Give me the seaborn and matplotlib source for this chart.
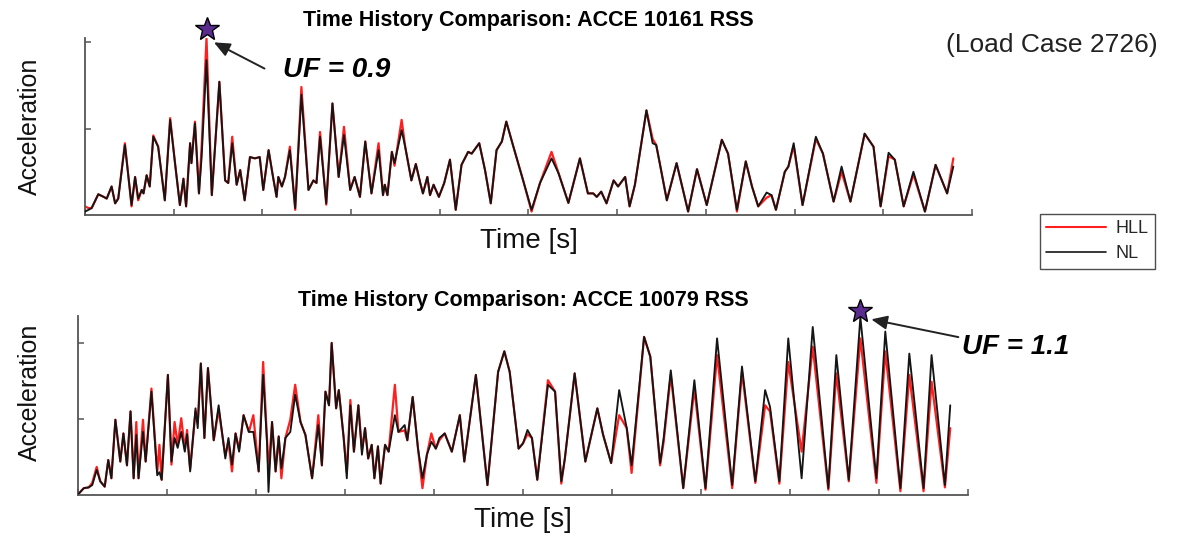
import numpy as np
import pandas as pd
import matplotlib
matplotlib.use("Agg")
import matplotlib.pyplot as plt
import seaborn as sns
from matplotlib.transforms import ScaledTranslation
from matplotlib.lines import Line2D

# ---------------- data ----------------
top_time = [0.00, 0.04, 0.075, 0.15, 0.21, 0.245, 0.30, 0.34, 0.375, 0.45, 0.525, 0.565, 0.60, 0.64, 0.66,
            0.695, 0.73, 0.77, 0.825, 0.90, 0.96, 1.015, 1.07, 1.11, 1.14, 1.185, 1.20, 1.24, 1.285, 1.315,
            1.37, 1.43, 1.515, 1.58, 1.615, 1.66, 1.71, 1.75, 1.80, 1.86, 1.915, 1.97, 2.01, 2.07, 2.12,
            2.16, 2.18, 2.22, 2.255, 2.31, 2.37, 2.44, 2.52, 2.575, 2.61, 2.65, 2.72, 2.79, 2.86, 2.92,
            2.99, 3.04, 3.10, 3.16, 3.23, 3.31, 3.36, 3.38, 3.41, 3.46, 3.49, 3.57, 3.61, 3.68, 3.73,
            3.78, 3.81, 3.86, 3.89, 3.93, 3.99, 4.05, 4.115, 4.18, 4.245, 4.32, 4.36, 4.445, 4.51, 4.575,
            4.64, 4.70, 4.75, 4.83, 4.94, 5.035, 5.13, 5.26, 5.34, 5.45, 5.58, 5.67, 5.73, 5.77, 5.82,
            5.88, 5.96, 6.01, 6.09, 6.14, 6.20, 6.33, 6.40, 6.44, 6.48, 6.56, 6.67, 6.80, 6.90, 7.01,
            7.18, 7.25, 7.35, 7.45, 7.52, 7.59, 7.685, 7.74, 7.79, 7.89, 7.93, 7.99, 8.09, 8.24, 8.32,
            8.44, 8.53, 8.63, 8.79, 8.89, 8.97, 9.06, 9.13, 9.23, 9.34, 9.47, 9.59, 9.72, 9.79]
top_nl = [0.04, 0.06, 0.08, 0.24, 0.21, 0.19, 0.33, 0.135, 0.19, 0.81, 0.115, 0.44, 0.19, 0.29, 0.25,
          0.46, 0.33, 0.905, 0.79, 0.17, 1.10, 0.60, 0.115, 0.42, 0.10, 0.83, 0.60, 1.06, 0.25, 0.67,
          1.79, 0.23, 1.54, 0.40, 0.37, 0.83, 0.35, 0.52, 0.17, 0.67, 0.655, 0.67, 0.29, 0.75, 0.44,
          0.21, 0.44, 0.33, 0.44, 0.75, 0.08, 1.39, 0.29, 0.40, 0.37, 0.905, 0.135, 1.29, 0.44, 0.925,
          0.29, 0.44, 0.21, 0.85, 0.25, 0.75, 0.23, 0.35, 0.23, 0.73, 0.60, 0.98, 0.79, 0.40, 0.59,
          0.37, 0.25, 0.44, 0.23, 0.35, 0.21, 0.37, 0.64, 0.06, 0.58, 0.73, 0.71, 0.83, 0.52, 0.135,
          0.75, 0.85, 1.08, 0.79, 0.40, 0.06, 0.37, 0.655, 0.48, 0.14, 0.655, 0.25, 0.25, 0.21, 0.27,
          0.135, 0.40, 0.33, 0.44, 0.10, 0.35, 1.21, 0.83, 0.81, 0.60, 0.17, 0.60, 0.04, 0.53, 0.115,
          0.87, 0.71, 0.06, 0.62, 0.33, 0.10, 0.26, 0.23, 0.06, 0.50, 0.56, 0.83, 0.115, 0.905, 0.71,
          0.155, 0.56, 0.155, 0.94, 0.79, 0.10, 0.72, 0.64, 0.10, 0.50, 0.04, 0.58, 0.25, 0.56]
top_hll = [0.10, 0.08, 0.08, 0.24, 0.21, 0.19, 0.33, 0.135, 0.19, 0.83, 0.10, 0.44, 0.17, 0.29, 0.25,
           0.46, 0.33, 0.92, 0.79, 0.17, 1.12, 0.60, 0.115, 0.42, 0.10, 0.83, 0.60, 1.08, 0.25, 0.79,
           2.04, 0.23, 1.54, 0.40, 0.37, 0.905, 0.35, 0.52, 0.17, 0.67, 0.655, 0.67, 0.29, 0.75, 0.44,
           0.21, 0.44, 0.33, 0.44, 0.79, 0.06, 1.48, 0.29, 0.40, 0.37, 0.96, 0.12, 1.29, 0.44, 1.02,
           0.29, 0.44, 0.21, 0.85, 0.25, 0.83, 0.23, 0.35, 0.23, 0.73, 0.57, 1.10, 0.79, 0.40, 0.59,
           0.37, 0.25, 0.44, 0.23, 0.35, 0.21, 0.37, 0.64, 0.06, 0.58, 0.73, 0.71, 0.83, 0.52, 0.135,
           0.75, 0.85, 1.08, 0.79, 0.40, 0.04, 0.37, 0.73, 0.48, 0.14, 0.655, 0.25, 0.25, 0.21, 0.27,
           0.135, 0.40, 0.33, 0.44, 0.10, 0.35, 1.21, 0.88, 0.81, 0.60, 0.17, 0.60, 0.04, 0.53, 0.115,
           0.87, 0.71, 0.04, 0.62, 0.33, 0.10, 0.20, 0.23, 0.06, 0.50, 0.56, 0.80, 0.115, 0.88, 0.71,
           0.155, 0.50, 0.155, 0.94, 0.79, 0.10, 0.68, 0.64, 0.10, 0.47, 0.04, 0.58, 0.25, 0.655]

bot_time = [0.01, 0.065, 0.12, 0.16, 0.21, 0.25, 0.30, 0.34, 0.375, 0.42, 0.475, 0.51, 0.55, 0.59, 0.625,
            0.655, 0.68, 0.73, 0.76, 0.825, 0.89, 0.915, 0.94, 1.01, 1.05, 1.085, 1.12, 1.16, 1.20, 1.225,
            1.26, 1.32, 1.345, 1.38, 1.42, 1.46, 1.525, 1.58, 1.655, 1.69, 1.73, 1.77, 1.81, 1.86, 1.92,
            1.97, 2.03, 2.08, 2.125, 2.14, 2.18, 2.22, 2.255, 2.285, 2.33, 2.385, 2.44, 2.50, 2.555, 2.63,
            2.70, 2.74, 2.78, 2.82, 2.85, 2.90, 2.93, 2.985, 3.02, 3.06, 3.10, 3.15, 3.19, 3.225, 3.26,
            3.30, 3.33, 3.37, 3.40, 3.45, 3.49, 3.56, 3.60, 3.67, 3.70, 3.76, 3.82, 3.87, 3.92, 3.97,
            4.02, 4.06, 4.12, 4.20, 4.29, 4.34, 4.47, 4.60, 4.72, 4.79, 4.85, 4.95, 5.00, 5.05, 5.10,
            5.16, 5.28, 5.36, 5.43, 5.47, 5.58, 5.70, 5.835, 5.90, 5.99, 6.08, 6.165, 6.22, 6.36, 6.43,
            6.54, 6.58, 6.66, 6.80, 6.925, 7.05, 7.18, 7.35, 7.46, 7.61, 7.72, 7.775, 7.88, 7.98, 8.13,
            8.255, 8.43, 8.52, 8.66, 8.79, 8.97, 9.07, 9.24, 9.34, 9.50, 9.59, 9.74, 9.80]
bot_nl = [0.02, 0.09, 0.10, 0.13, 0.33, 0.18, 0.11, 0.46, 0.22, 0.99, 0.44, 0.81, 0.39, 1.10, 0.22,
          0.79, 0.22, 0.83, 0.44, 1.36, 0.26, 0.30, 0.20, 1.58, 0.44, 0.75, 0.62, 0.83, 0.57, 0.80,
          0.31, 1.14, 0.88, 1.73, 0.75, 1.67, 0.72, 1.18, 0.48, 0.75, 0.40, 0.81, 0.57, 1.05, 0.83,
          0.83, 0.31, 1.58, 0.66, 0.04, 0.96, 0.31, 0.77, 0.35, 0.75, 0.83, 1.32, 0.96, 0.79, 0.22,
          0.92, 0.39, 1.36, 1.18, 2.00, 1.14, 1.38, 0.75, 0.22, 1.18, 0.57, 1.18, 0.53, 0.88, 0.48,
          0.66, 0.22, 0.64, 0.15, 0.66, 0.57, 1.05, 0.83, 0.92, 0.72, 1.29, 0.61, 0.22, 0.53, 0.70,
          0.61, 0.75, 0.81, 0.57, 1.05, 0.44, 1.58, 0.13, 1.62, 1.89, 1.62, 0.61, 0.68, 0.855, 0.75,
          0.20, 1.45, 1.36, 0.18, 0.48, 1.60, 0.44, 1.14, 0.79, 0.42, 1.38, 0.88, 0.39, 2.08, 1.82,
          0.42, 0.75, 1.64, 0.09, 1.51, 0.09, 2.06, 0.13, 1.69, 0.18, 1.38, 1.16, 0.18, 2.06, 0.22,
          2.21, 0.09, 1.84, 0.20, 2.34, 0.22, 2.15, 0.09, 1.86, 0.09, 1.84, 0.13, 1.18]
bot_hll = [0.02, 0.09, 0.10, 0.16, 0.37, 0.18, 0.11, 0.46, 0.22, 0.99, 0.44, 0.81, 0.39, 1.10, 0.22,
           0.96, 0.22, 0.99, 0.44, 1.40, 0.30, 0.66, 0.20, 1.58, 0.40, 0.96, 0.66, 1.01, 0.60, 0.855,
           0.35, 1.10, 0.95, 1.73, 0.75, 1.67, 0.72, 1.12, 0.52, 0.70, 0.31, 0.81, 0.60, 1.05, 0.83,
           1.05, 0.31, 1.75, 0.70, 0.30, 0.96, 0.31, 0.77, 0.22, 0.75, 0.99, 1.45, 0.96, 0.79, 0.22,
           1.05, 0.39, 1.36, 1.18, 2.00, 1.14, 1.38, 0.75, 0.30, 1.25, 0.57, 1.18, 0.60, 0.88, 0.48,
           0.66, 0.22, 0.64, 0.15, 0.66, 0.57, 1.45, 0.83, 0.85, 0.72, 1.29, 0.61, 0.09, 0.53, 0.81,
           0.61, 0.72, 0.81, 0.57, 1.05, 0.44, 1.58, 0.13, 1.62, 1.89, 1.62, 0.61, 0.68, 0.80, 0.75,
           0.20, 1.51, 1.36, 0.15, 0.48, 1.60, 0.44, 1.14, 0.79, 0.42, 1.05, 0.88, 0.29, 2.08, 1.82,
           0.39, 0.70, 1.58, 0.09, 1.40, 0.07, 1.84, 0.09, 1.62, 0.16, 1.18, 1.10, 0.15, 1.75, 0.57,
           1.95, 0.07, 1.60, 0.18, 2.06, 0.16, 1.89, 0.05, 1.58, 0.05, 1.49, 0.10, 0.88]

titles = ["Time History Comparison: ACCE 10161 RSS", "Time History Comparison: ACCE 10079 RSS"]
uf_labels = ["UF = 0.9", "UF = 1.1"]
series_names = ["HLL", "NL"]
x_label = "Time [s]"
y_label = "Acceleration"
load_case = "(Load Case 2726)"
xticks = list(range(11))
yticks = [1, 2]

# ---------------- styling ----------------
sns.set_theme(style="white")
plt.rcParams["font.family"] = ["Liberation Sans", "DejaVu Sans"]

RED = "#ff1f1f"
BLACK = "#151515"
SPINE = "#555555"
STAR = "#5c2b8f"

fig = plt.figure(figsize=(11.82, 5.43), dpi=100)
ax1 = fig.add_axes([0.0719, 0.604, 0.7504, 0.3266])
ax2 = fig.add_axes([0.0660, 0.0884, 0.7530, 0.3304])

panels = [
    dict(ax=ax1, t=top_time, nl=top_nl, hll=top_hll, title=titles[0], uf=uf_labels[0], ytop=2.05,
         star_dy=10, tail=(58, -30), text=(76, -31), shrink=6, tpad=8.4, ylx=-0.0485, yly=0.50),
    dict(ax=ax2, t=bot_time, nl=bot_nl, hll=bot_hll, title=titles[1], uf=uf_labels[1], ytop=2.36,
         star_dy=6, tail=(98, -20), text=(102, -30), shrink=8, tpad=6.9, ylx=-0.040, yly=0.574),
]

for p in panels:
    ax = p["ax"]
    df = pd.DataFrame({"t": p["t"], "HLL": p["hll"], "NL": p["nl"]})
    sns.lineplot(data=df, x="t", y="HLL", ax=ax, color=RED, linewidth=1.6, estimator=None, zorder=2,
                 solid_joinstyle="round", solid_capstyle="round")
    sns.lineplot(data=df, x="t", y="NL", ax=ax, color=BLACK, linewidth=1.35, estimator=None, zorder=3,
                 solid_joinstyle="round", solid_capstyle="round")
    ax.set_xlim(0, 10)
    ax.set_ylim(0, p["ytop"])
    ax.set_xticks(xticks)
    ax.set_yticks(yticks)
    ax.tick_params(direction="in", length=4, width=1.1, color=SPINE, bottom=True, left=True,
                   labelbottom=False, labelleft=False)
    for s in ["top", "right"]:
        ax.spines[s].set_visible(False)
    for s in ["left", "bottom"]:
        ax.spines[s].set_color(SPINE)
        ax.spines[s].set_linewidth(1.3)
    ax.set_title(p["title"], fontsize=15.5, fontweight="bold", color="black", pad=p["tpad"])
    ax.set_xlabel(x_label, fontsize=20, color="#111111", labelpad=9)
    ax.set_ylabel(y_label, fontsize=18, color="#111111")
    ax.yaxis.set_label_coords(p["ylx"], p["yly"])

    # peak marker (max of both series)
    both = np.array([p["hll"], p["nl"]])
    idx = np.unravel_index(np.argmax(both), both.shape)
    tpk = p["t"][idx[1]]
    apk = both[idx]
    off = ScaledTranslation(0, p["star_dy"] / fig.dpi, fig.dpi_scale_trans)
    ax.plot([tpk], [apk], marker="*", markersize=18, markerfacecolor=STAR, markeredgecolor="black",
            markeredgewidth=1.0, linestyle="none", transform=ax.transData + off, clip_on=False, zorder=5)
    ax.annotate("", xy=(tpk, apk), xytext=p["tail"], textcoords="offset pixels",
                arrowprops=dict(arrowstyle="-|>,head_length=0.8,head_width=0.35", color="#222222",
                                lw=1.4, shrinkA=0, shrinkB=p["shrink"]),
                annotation_clip=False, zorder=6)
    ax.annotate(p["uf"], xy=(tpk, apk), xytext=p["text"], textcoords="offset pixels",
                ha="left", va="center", fontsize=20, fontweight="bold", fontstyle="italic",
                color="black", annotation_clip=False)

fig.text(0.890, 0.917, load_case, ha="center", va="center", fontsize=19, color="#222222")

handles = [Line2D([0], [0], color=RED, lw=1.5), Line2D([0], [0], color=BLACK, lw=1.2)]
leg = fig.legend(handles, series_names, loc="upper left", bbox_to_anchor=(0.8799, 0.6059),
                 frameon=True, fancybox=False, fontsize=13, handlelength=3.3, handletextpad=0.55,
                 borderpad=0.35, labelspacing=0.45, borderaxespad=0)
leg.get_frame().set_edgecolor("#222222")
leg.get_frame().set_linewidth(1.0)

fig.savefig("out.png", dpi=100)
